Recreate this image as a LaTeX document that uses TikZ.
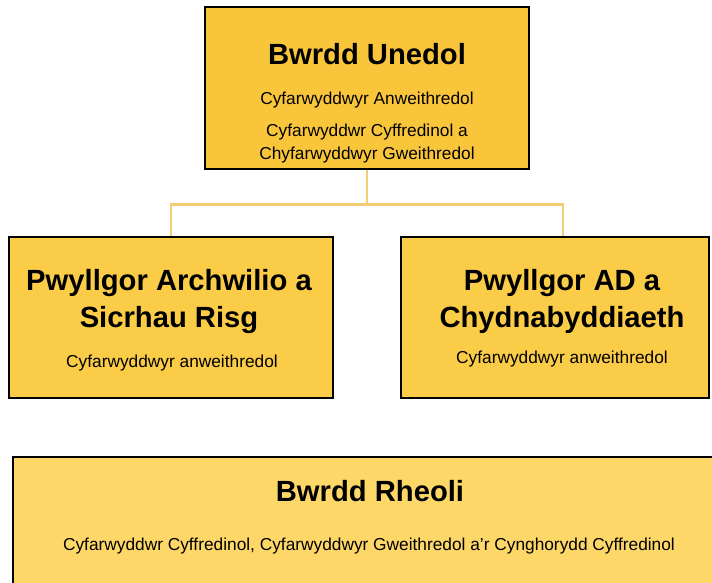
\documentclass[tikz,border=0pt]{standalone}
\usepackage{fontspec}
\setmainfont{Liberation Sans}
\usetikzlibrary{calc}
\definecolor{aurTywyll}{HTML}{F9C63B}
\definecolor{aurCanol}{HTML}{FBCC47}
\definecolor{aurGolau}{HTML}{FDD767}
\definecolor{llinellAur}{HTML}{F2CD75}
\tikzset{
	bocs/.style={draw=black, rectangle, inner sep=0pt},
	teitl/.style={font=\bfseries\fontsize{29.2}{36.5}\selectfont, align=center, inner sep=0pt, anchor=base},
	isdeitl/.style={font=\fontsize{17.3}{22}\selectfont, align=center, inner sep=0pt, anchor=base},
	cyswllt/.style={draw=llinellAur, line width=2.2pt}
}

\begin{document}
\begin{tikzpicture}[x=1pt, y=-1pt]
			%%%%% START %%%%%
			
			\clip (0, 0) rectangle (712, 583);
			\fill[white] (0, 0) rectangle (712, 583);
			
			% bwrdd unedol
			\node[bocs, fill=aurTywyll, line width=2.8pt, minimum width=324, minimum height=162] (unedol) at (367, 88) {};
			\node[teitl] (unedolTeitl) at (367, 65) {Bwrdd Unedol};
			\node[isdeitl] (unedolAn) at (367, 105) {Cyfarwyddwyr Anweithredol};
			\node[isdeitl] (unedolGw) at (367, 159) {Cyfarwyddwr Cyffredinol a\\Chyfarwyddwyr Gweithredol};
			
			% pwyllgorau
			\node[bocs, fill=aurCanol, line width=2.4pt, minimum width=324, minimum height=161] (archwilio) at (171, 317.5) {};
			\node[teitl] (archwilioTeitl) at (169, 327) {Pwyllgor Archwilio a\\Sicrhau Risg};
			\node[isdeitl] (archwilioAn) at (172, 367) {Cyfarwyddwyr anweithredol};
			
			\node[bocs, fill=aurCanol, line width=2.4pt, minimum width=308, minimum height=161] (adTaliad) at (555, 317.5) {};
			\node[teitl] (adTeitl) at (562, 327) {Pwyllgor AD a\\Chydnabyddiaeth};
			\node[isdeitl] (adAn) at (562, 363) {Cyfarwyddwyr anweithredol};
			
			% cysylltiadau
			\draw[cyswllt] (unedol.south) -- ++(0, 34) -| (archwilio.north);
			\draw[cyswllt] (unedol.south) -- ++(0, 34) -| ([xshift=8pt]adTaliad.north);
			
			% bwrdd rheoli
			\node[bocs, fill=aurGolau, line width=2pt, minimum width=712, minimum height=176] (rheoli) at (369, 545) {};
			\node[teitl] (rheoliTeitl) at (370, 501) {Bwrdd Rheoli};
			\node[isdeitl] (rheoliAelodau) at (369, 550) {Cyfarwyddwr Cyffredinol, Cyfarwyddwyr Gweithredol a’r Cynghorydd Cyffredinol};
			
			%%%%% END %%%%%
\end{tikzpicture}
\end{document}
